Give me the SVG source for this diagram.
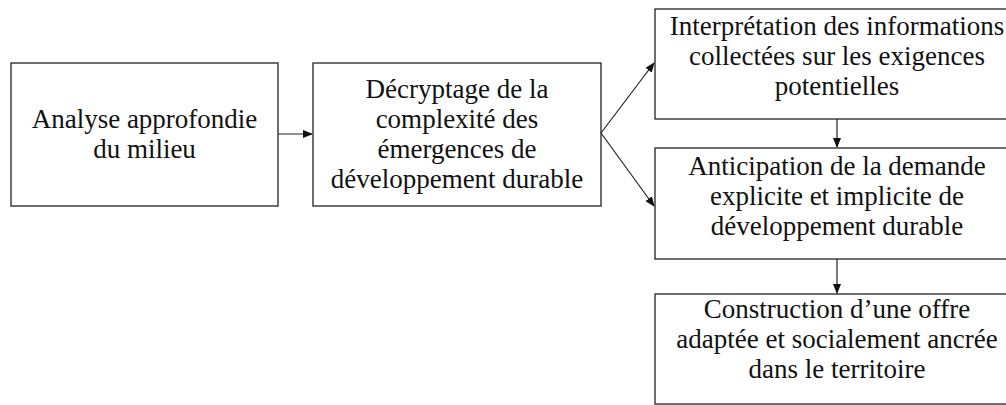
<svg xmlns="http://www.w3.org/2000/svg" width="1006" height="405" viewBox="0 0 1006 405">
<style>
.box{fill:#fff;stroke:#222;stroke-width:1.3}
.t{font-family:"Liberation Serif","Times New Roman",serif;font-size:27px;fill:#111;text-anchor:middle}
.c{stroke:#222;stroke-width:1.2;fill:none}
</style>
<defs>
<marker id="ah" markerWidth="10" markerHeight="8" refX="9" refY="4" orient="auto" markerUnits="userSpaceOnUse">
<path d="M0,0 L10,4 L0,8 Z" fill="#111"/>
</marker>
</defs>
<rect width="1006" height="405" fill="#fff"/>
<g id="n1">
<rect class="box" x="11" y="63" width="267" height="143"/>
<text class="t" x="144.5" y="128">Analyse approfondie</text>
<text class="t" x="144.5" y="158">du milieu</text>
</g>
<g id="n2">
<rect class="box" x="313" y="63" width="288" height="143"/>
<text class="t" x="457" y="98">Décryptage de la</text>
<text class="t" x="457" y="128">complexité des</text>
<text class="t" x="457" y="158">émergences de</text>
<text class="t" x="457" y="188">développement durable</text>
</g>
<g id="n3">
<rect class="box" x="655" y="9" width="364" height="110"/>
<text class="t" x="837" y="35">Interprétation des informations</text>
<text class="t" x="837" y="65">collectées sur les exigences</text>
<text class="t" x="837" y="95">potentielles</text>
</g>
<g id="n4">
<rect class="box" x="655" y="148" width="364" height="111"/>
<text class="t" x="837" y="175">Anticipation de la demande</text>
<text class="t" x="837" y="205">explicite et implicite de</text>
<text class="t" x="837" y="235">développement durable</text>
</g>
<g id="n5">
<rect class="box" x="655" y="294" width="364" height="110"/>
<text class="t" x="837" y="318">Construction d’une offre</text>
<text class="t" x="837" y="348">adaptée et socialement ancrée</text>
<text class="t" x="837" y="378">dans le territoire</text>
</g>
<g id="connectors">
<line class="c" x1="278" y1="134" x2="312" y2="134" marker-end="url(#ah)"/>
<line class="c" x1="601" y1="133" x2="654" y2="63" marker-end="url(#ah)"/>
<line class="c" x1="601" y1="133" x2="654" y2="206" marker-end="url(#ah)"/>
<line class="c" x1="837" y1="119" x2="837" y2="147" marker-end="url(#ah)"/>
<line class="c" x1="837" y1="259" x2="837" y2="293" marker-end="url(#ah)"/>
</g>
</svg>
